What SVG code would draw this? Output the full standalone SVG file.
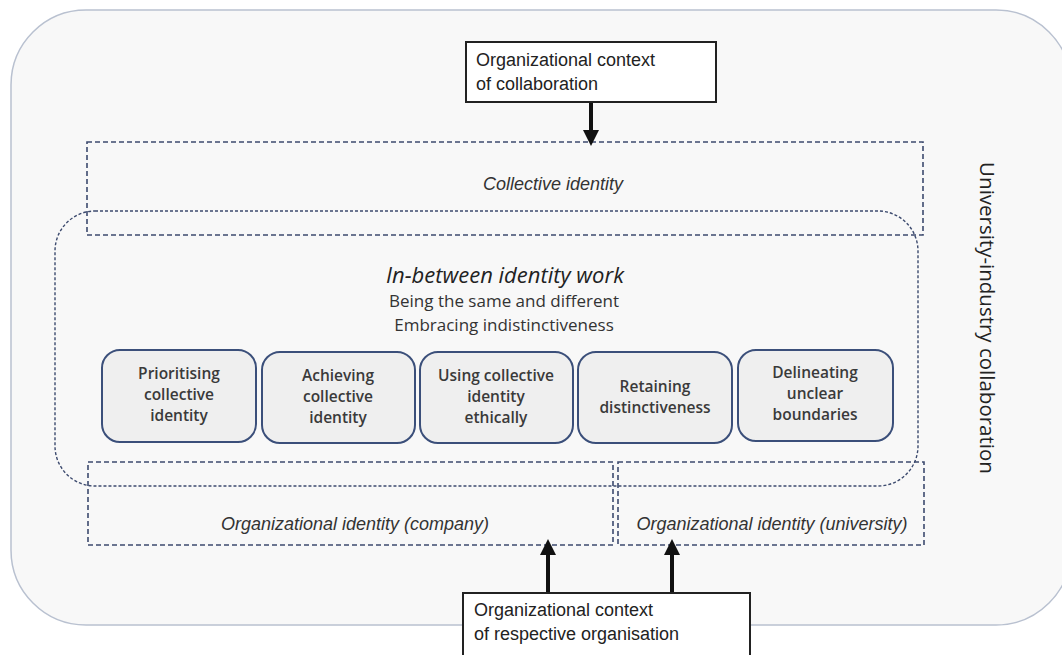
<svg xmlns="http://www.w3.org/2000/svg" width="1062" height="655" viewBox="0 0 1062 655">
<defs>
<marker id="ah" markerWidth="4" markerHeight="4" refX="2" refY="2" orient="auto" markerUnits="strokeWidth"><path d="M0,0 L4,2 L0,4 z" fill="#111"/></marker>
<style>
.ctx{fill:#fff;stroke:#222;stroke-width:2}
.ctxt{font-family:"Liberation Sans",Arial,sans-serif;font-size:18px;fill:#222}
.dash{fill:none;stroke:#3c4a6e;stroke-width:1.6;stroke-dasharray:5,3}
.fine{fill:none;stroke:#3c4a6e;stroke-width:1.4;stroke-dasharray:3,2}
.lbl{font-family:"Liberation Sans",Arial,sans-serif;font-size:18px;font-style:italic;fill:#333;text-anchor:middle}
.box{fill:#efefef;stroke:#3b4f7a;stroke-width:2}
.bt{font-family:"Open Sans",sans-serif;font-size:15.5px;font-weight:600;fill:#3a3a3a;text-anchor:middle}
.mid{font-family:"Open Sans",sans-serif;font-size:17px;fill:#333;text-anchor:middle}
.arr{stroke:#111;stroke-width:4;fill:none}
</style>
</defs>
<rect width="1062" height="655" fill="#fff"/>
<g id="outer">
<rect x="11" y="10" width="1060" height="615" rx="75" ry="75" fill="#f8f8f8" stroke="#b9c1d0" stroke-width="1.5"/>
<text x="980" y="318" transform="rotate(90 980 318)" font-family="Open Sans,sans-serif" font-size="20.5" fill="#222" text-anchor="middle">University-industry collaboration</text>
</g>
<g id="collective">
<rect class="dash" x="87" y="142" width="836" height="93"/>
<text class="lbl" x="553" y="190">Collective identity</text>
</g>
<g id="company">
<rect class="dash" x="88" y="462" width="525" height="83"/>
<text class="lbl" x="355" y="530">Organizational identity (company)</text>
</g>
<g id="university">
<rect class="dash" x="618" y="462" width="306" height="83"/>
<text class="lbl" x="772" y="530">Organizational identity (university)</text>
</g>
<g id="inbetween">
<rect class="fine" x="55" y="211" width="863" height="275" rx="40" ry="40"/>
<text x="505" y="283" font-family="Open Sans,sans-serif" font-size="22" font-style="italic" fill="#222" text-anchor="middle">In-between identity work</text>
<text class="mid" x="504" y="307">Being the same and different</text>
<text class="mid" x="504" y="331">Embracing indistinctiveness</text>
</g>
<g id="b1"><rect class="box" x="102" y="350" width="154" height="92" rx="18"/>
<text class="bt" x="179" y="379">Prioritising</text><text class="bt" x="179" y="400">collective</text><text class="bt" x="179" y="421">identity</text></g>
<g id="b2"><rect class="box" x="262" y="352" width="153" height="91" rx="18"/>
<text class="bt" x="338" y="381">Achieving</text><text class="bt" x="338" y="402">collective</text><text class="bt" x="338" y="423">identity</text></g>
<g id="b3"><rect class="box" x="420" y="352" width="153" height="91" rx="18"/>
<text class="bt" x="496" y="381">Using collective</text><text class="bt" x="496" y="402">identity</text><text class="bt" x="496" y="423">ethically</text></g>
<g id="b4"><rect class="box" x="578" y="352" width="154" height="91" rx="18"/>
<text class="bt" x="655" y="392">Retaining</text><text class="bt" x="655" y="413">distinctiveness</text></g>
<g id="b5"><rect class="box" x="738" y="350" width="155" height="91" rx="18"/>
<text class="bt" x="815" y="378">Delineating</text><text class="bt" x="815" y="399">unclear</text><text class="bt" x="815" y="420">boundaries</text></g>
<g id="ctxTop"><rect class="ctx" x="466" y="42" width="250" height="60"/>
<text class="ctxt" x="476" y="66">Organizational context</text><text class="ctxt" x="476" y="90">of collaboration</text></g>
<g id="ctxBottom"><rect class="ctx" x="463" y="593" width="287" height="64"/>
<text class="ctxt" x="474" y="616">Organizational context</text><text class="ctxt" x="474" y="640">of respective organisation</text></g>
<g id="connectors">
<line class="arr" x1="591" y1="103" x2="591" y2="138" marker-end="url(#ah)"/>
<line class="arr" x1="548" y1="592" x2="548" y2="547" marker-end="url(#ah)"/>
<line class="arr" x1="672" y1="592" x2="672" y2="547" marker-end="url(#ah)"/>
</g>
</svg>
